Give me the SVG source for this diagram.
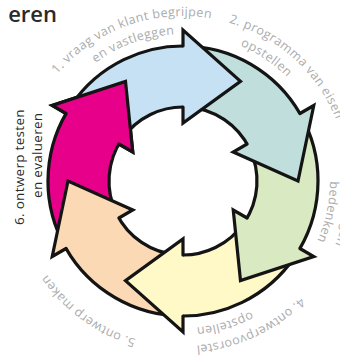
<svg xmlns="http://www.w3.org/2000/svg" xmlns:xlink="http://www.w3.org/1999/xlink" width="340" height="355" viewBox="0 0 340 355">
<style>
.body{stroke:#141414;stroke-width:3.2;stroke-linejoin:miter}
.hf{stroke:none}
.ho{fill:none;stroke:#141414;stroke-width:3.2;stroke-linejoin:miter;stroke-linecap:round}
.lbl{font-family:"Open Sans","Noto Sans","Liberation Sans",sans-serif;font-size:12.5px;letter-spacing:0.4px;fill:#ababab}
.dark{font-family:"Open Sans","Noto Sans","Liberation Sans",sans-serif;font-size:13.5px;letter-spacing:0.3px;fill:#2a2a2a}
.title{font-family:"Open Sans","Noto Sans","Liberation Sans",sans-serif;font-size:22px;font-weight:600;fill:#2a2a2a}
.c1{fill:#c6e1f4}.c2{fill:#bfdedc}.c3{fill:#d9e9c2}.c4{fill:#fef9c6}.c5{fill:#fcd9b5}.c6{fill:#e6008a}
</style>
<defs>
<path id="b165" d="M 183,346 A 165 165 0 0 1 183,16 A 165 165 0 0 1 183,346"/>
<path id="b147" d="M 183,328 A 147 147 0 0 1 183,34 A 147 147 0 0 1 183,328"/>
<path id="t165" d="M 183,16 A 165 165 0 0 1 183,346 A 165 165 0 0 1 183,16"/>
<path id="t147" d="M 183,34 A 147 147 0 0 1 183,328 A 147 147 0 0 1 183,34"/>
<path id="head6fill" d="M 52.23,105.5 L 125.5,81.41 L 132.77,152 Z"/>
<path id="head6line" d="M 66.09,113.5 L 52.23,105.5 L 125.5,81.41 L 132.77,152 L 118.92,144"/>
</defs>
<rect width="340" height="355" fill="#ffffff"/>
<text class="title" x="57" y="22" text-anchor="end">eren</text>

<g id="node6">
<path class="body c6" d="M 61.66,240.18 A 135 135 0 0 1 71.08,105.51 L 121.65,139.62 A 74 74 0 0 0 116.49,213.44 Z"/>
<use href="#head6fill" class="hf c6"/>
<use href="#head6line" class="ho"/>
<text class="dark" transform="translate(24,225) rotate(-90)">6. ontwerp testen</text>
<text class="dark" transform="translate(41.5,198) rotate(-90)">en evalueren</text>
</g>
<g id="node5">
<path class="body c5" d="M 173.58,315.67 A 135 135 0 0 1 61.66,240.18 L 116.49,213.44 A 74 74 0 0 0 177.84,254.82 Z"/>
<path class="hf c5" d="M 52.23,256.5 L 68,181 L 132.77,210 Z"/>
<path class="ho" d="M 66.09,248.5 L 52.23,256.5 L 68,181 L 132.77,210 L 118.92,218"/>
<text class="lbl"><textPath href="#t165" startOffset="622.0" text-anchor="middle">5. ontwerp maken</textPath></text>
</g>
<g id="node4">
<path class="body c4" d="M 294.92,256.49 A 135 135 0 0 1 173.58,315.67 L 177.84,254.82 A 74 74 0 0 0 244.35,222.38 Z"/>
<path class="hf c4" d="M 183,332 L 125.5,280.59 L 183,239 Z"/>
<path class="ho" d="M 183,316 L 183,332 L 125.5,280.59 L 183,239 L 183,255"/>
<text class="lbl"><textPath href="#t165" startOffset="446.4" text-anchor="middle">4. ontwerpvoorstel</textPath></text>
<text class="lbl"><textPath href="#t147" startOffset="419.7" text-anchor="middle">opstellen</textPath></text>
</g>
<g id="node3">
<path class="body c3" d="M 304.34,121.82 A 135 135 0 0 1 294.92,256.49 L 244.35,222.38 A 74 74 0 0 0 249.51,148.56 Z"/>
<path class="hf c3" d="M 313.77,256.5 L 240.5,280.59 L 233.23,210 Z"/>
<path class="ho" d="M 299.91,248.5 L 313.77,256.5 L 240.5,280.59 L 233.23,210 L 247.08,218"/>
<text class="lbl"><textPath href="#b165" startOffset="794.8" text-anchor="middle">3. uitwerkingen</textPath></text>
<text class="lbl"><textPath href="#b147" startOffset="723.5" text-anchor="middle">bedenken</textPath></text>
</g>
<g id="node2">
<path class="body c2" d="M 192.42,46.33 A 135 135 0 0 1 304.34,121.82 L 249.51,148.56 A 74 74 0 0 0 188.16,107.18 Z"/>
<path class="hf c2" d="M 313.77,105.5 L 298,181 L 233.23,152 Z"/>
<path class="ho" d="M 299.91,113.5 L 313.77,105.5 L 298,181 L 233.23,152 L 247.08,144"/>
<text class="lbl"><textPath href="#b165" startOffset="639.3" text-anchor="middle">2. programma van eisen</textPath></text>
<text class="lbl"><textPath href="#b147" startOffset="549.0" text-anchor="middle">opstellen</textPath></text>
</g>
<g id="node1">
<path class="body c1" d="M 71.08,105.51 A 135 135 0 0 1 192.42,46.33 L 188.16,107.18 A 74 74 0 0 0 121.65,139.62 Z"/>
<path class="hf c1" d="M 183,30 L 240.5,81.41 L 183,123 Z"/>
<path class="ho" d="M 183,46 L 183,30 L 240.5,81.41 L 183,123 L 183,107"/>
<text class="lbl"><textPath href="#b165" startOffset="460.8" text-anchor="middle">1. vraag van klant begrijpen</textPath></text>
<text class="lbl"><textPath href="#b147" startOffset="410.5" text-anchor="middle">en vastleggen</textPath></text>
</g>
<g id="node6-head-overlay">
<use href="#head6fill" class="hf c6"/>
<use href="#head6line" class="ho"/>
</g>
</svg>
